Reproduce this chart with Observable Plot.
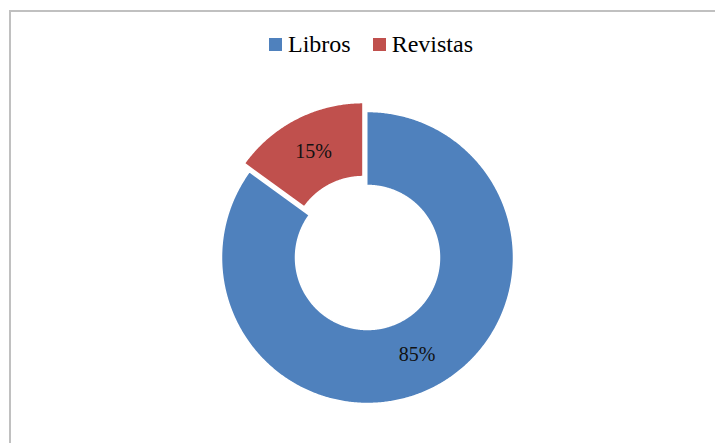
<!DOCTYPE html>
<html><head><meta charset="utf-8">
<script src="https://cdn.jsdelivr.net/npm/d3@7"></script>
<script src="https://cdn.jsdelivr.net/npm/@observablehq/plot@0.6"></script>
<style>
body{margin:0;background:#fff;}
#wrap{position:relative;width:715px;height:443px;overflow:hidden;background:#fff;}
#frame{position:absolute;left:9px;top:10px;width:800px;height:500px;border-left:2px solid #c0c0c0;border-top:2px solid #c0c0c0;box-sizing:border-box;}
#chart{position:absolute;left:0;top:0;}
#legend{position:absolute;left:269px;top:31px;font:24px "Liberation Serif",serif;color:#000;white-space:nowrap;line-height:normal;}
#legend .item{display:inline-block;margin-right:22px;}
#legend .sw{display:inline-block;width:13px;height:13px;margin-right:6px;vertical-align:baseline;position:relative;top:-1px;}
</style></head>
<body>
<div id="wrap"><div id="frame"></div><div id="chart"></div><div id="legend"></div></div>
<script>
const categories = ["Libros", "Revistas"];
const values = [85, 15];
const colors = ["#4F81BD", "#C0504D"];
const exploded = [false, true];

const W = 715, H = 443, cx = 367, cy = 257, R = 146;
const innerFrac = 72 / 146, explodeFrac = 10 / 146;

const total = d3.sum(values);
const arcs = d3.pie().sort(null).value(d => d)(values);

const points = [];
const labels = [];
arcs.forEach((a, i) => {
  const mid = (a.startAngle + a.endAngle) / 2;
  const ox = exploded[i] ? Math.sin(mid) * explodeFrac : 0;
  const oy = exploded[i] ? Math.cos(mid) * explodeFrac : 0;
  const n = Math.max(8, Math.ceil((a.endAngle - a.startAngle) * 120));
  for (let k = 0; k <= n; k++) {
    const t = a.startAngle + (a.endAngle - a.startAngle) * k / n;
    points.push({cat: categories[i], x: ox + Math.sin(t), y: oy + Math.cos(t)});
  }
  for (let k = n; k >= 0; k--) {
    const t = a.startAngle + (a.endAngle - a.startAngle) * k / n;
    points.push({cat: categories[i], x: ox + innerFrac * Math.sin(t), y: oy + innerFrac * Math.cos(t)});
  }
  const rm = (1 + innerFrac) / 2;
  labels.push({text: Math.round(values[i] / total * 100) + "%", x: ox + rm * Math.sin(mid), y: oy + rm * Math.cos(mid)});
});

const chart = Plot.plot({
  width: W, height: H,
  margin: 0,
  x: {domain: [-cx / R, (W - cx) / R], axis: null},
  y: {domain: [-(H - cy) / R, cy / R], axis: null},
  color: {domain: categories, range: colors},
  style: {background: "transparent", overflow: "visible"},
  marks: [
    Plot.line(points, {x: "x", y: "y", z: "cat", fill: "cat", stroke: "white", strokeWidth: 1.5, curve: "linear"}),
    Plot.text(labels, {x: "x", y: "y", text: "text", fontSize: 20, fontFamily: "Liberation Serif", fill: "#111"})
  ]
});
document.getElementById("chart").appendChild(chart);

const leg = d3.select("#legend");
categories.forEach((c, i) => {
  const it = leg.append("span").attr("class", "item");
  it.append("span").attr("class", "sw").style("background", colors[i]);
  it.append("span").text(c);
});
</script>
</body></html>
